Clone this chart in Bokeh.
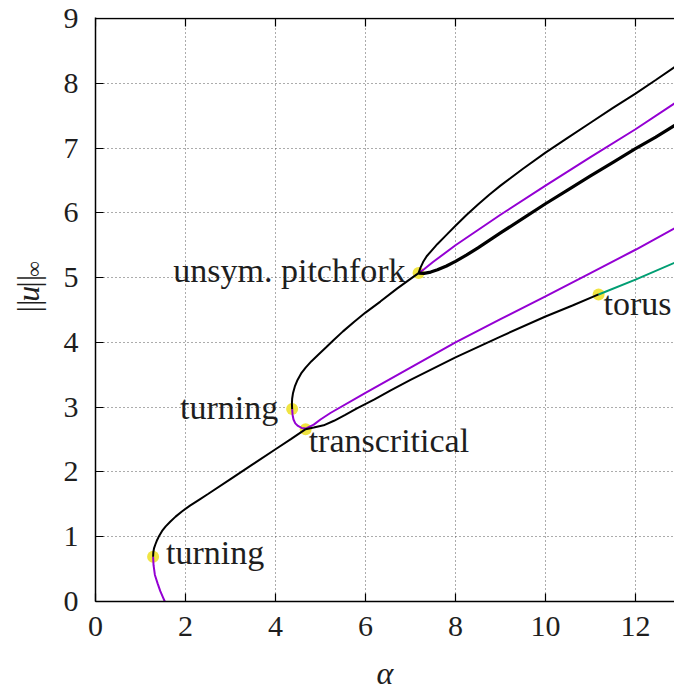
import math
from bokeh.plotting import figure
from bokeh.layouts import row
from bokeh.models import Label, FixedTicker, Range1d, Span
from bokeh.core.properties import value
from bokeh.embed import file_html
from bokeh.resources import INLINE

# ---------------- data ----------------
# lower purple branch below the first turning point
a_low = [1.54, 1.49, 1.44, 1.38, 1.32, 1.29, 1.28]
u_low = [0.00, 0.08, 0.16, 0.28, 0.41, 0.56, 0.69]

# main black branch: first turning point -> transcritical -> torus
a_main = [1.28, 1.285, 1.30, 1.33, 1.37, 1.42, 1.48, 1.56, 1.66, 1.78, 1.92, 2.10, 2.30,
          2.50, 3.00, 3.50, 4.00, 4.35, 4.67, 4.85, 5.07, 5.30, 5.55, 5.81, 6.20, 6.56,
          7.00, 8.00, 9.00, 10.00, 10.60, 11.18]
u_main = [0.69, 0.76, 0.82, 0.88, 0.95, 1.02, 1.09, 1.16, 1.23, 1.31, 1.39, 1.48, 1.57,
          1.66, 1.89, 2.12, 2.35, 2.51, 2.66, 2.685, 2.72, 2.79, 2.88, 2.98, 3.12, 3.26,
          3.42, 3.77, 4.09, 4.40, 4.57, 4.74]

# green continuation after the torus point
a_torus = [11.18, 12.00, 12.87]
u_torus = [4.74, 4.97, 5.23]

# purple branch: second turning point -> transcritical -> right edge
a_mid = [4.37, 4.38, 4.40, 4.44, 4.50, 4.58, 4.67, 4.85, 5.00, 5.22, 6.00, 7.00, 8.00,
         9.00, 10.00, 11.00, 12.00, 12.87]
u_mid = [2.97, 2.88, 2.81, 2.75, 2.71, 2.68, 2.67, 2.73, 2.81, 2.91, 3.22, 3.61, 4.00,
         4.36, 4.71, 5.07, 5.43, 5.76]

# black branch: second turning point -> pitchfork -> upper branch
a_up = [4.37, 4.365, 4.37, 4.39, 4.43, 4.49, 4.57, 4.67, 4.80, 4.95, 5.12, 5.30, 5.50,
        5.75, 6.00, 6.33, 6.70, 7.00, 7.18, 7.22, 7.28, 7.36, 7.46, 7.60, 7.80, 8.00,
        8.25, 8.50, 8.75, 9.00, 9.50, 10.00, 10.50, 11.00, 11.50, 12.00, 12.45, 12.87]
u_up = [2.97, 3.05, 3.13, 3.22, 3.32, 3.42, 3.52, 3.61, 3.71, 3.81, 3.92, 4.04, 4.17,
        4.32, 4.46, 4.63, 4.83, 4.98, 5.07, 5.15, 5.24, 5.33, 5.41, 5.52, 5.66, 5.80,
        5.97, 6.13, 6.28, 6.42, 6.68, 6.93, 7.16, 7.39, 7.62, 7.84, 8.05, 8.25]

# purple branch out of the pitchfork
a_pf = [7.18, 7.30, 7.50, 8.00, 9.00, 10.00, 11.00, 12.00, 12.87]
u_pf = [5.07, 5.13, 5.24, 5.50, 5.97, 6.42, 6.86, 7.29, 7.69]

# thick black (symmetric pair) branch out of the pitchfork
a_pf2 = [7.18, 7.30, 7.45, 7.60, 7.80, 8.00, 8.25, 8.50, 8.75, 9.00, 9.50, 10.00, 10.50,
         11.00, 11.50, 12.00, 12.45, 12.87]
u_pf2 = [5.07, 5.065, 5.085, 5.12, 5.18, 5.25, 5.35, 5.46, 5.575, 5.69, 5.915, 6.14,
         6.355, 6.57, 6.78, 6.99, 7.17, 7.35]

# bifurcation points and their labels
bif_names = ["turning", "turning", "transcritical", "unsym. pitchfork", "torus"]
bif_a = [1.28, 4.37, 4.67, 7.18, 11.18]
bif_u = [0.69, 2.97, 2.66, 5.07, 4.74]

x_ticks = [0, 2, 4, 6, 8, 10, 12]
y_ticks = [0, 1, 2, 3, 4, 5, 6, 7, 8, 9]
x_label = "α"
y_label_parts = ["||", "u", "||", "∞"]

# ---------------- styles ----------------
FONT = "Liberation Serif"
TXT = "#1e1e1e"
BLACK = "#000000"
PURPLE = "#9400d3"
GREEN = "#009e73"
YELLOW = "#f0e442"
PX_PER_U = 65.0

p = figure(width=614, height=693, x_range=Range1d(0, 12.867),
           y_range=Range1d(0, 9 + 1 / PX_PER_U),
           output_backend="svg", toolbar_location=None, title=None,
           min_border_left=35, min_border_right=0, min_border_top=17, min_border_bottom=90,
           x_axis_label=x_label)
p.outline_line_color = None
p.background_fill_color = "white"
p.border_fill_color = "white"

xt = FixedTicker(ticks=x_ticks)
yt = FixedTicker(ticks=y_ticks)

for ax, tk in ((p.xaxis[0], xt), (p.yaxis[0], yt)):
    ax.ticker = tk
    ax.major_tick_in = 8
    ax.major_tick_out = 0
    ax.minor_tick_line_color = None
    ax.axis_line_width = 1.5
    ax.major_tick_line_width = 1.2
    ax.major_label_text_font = FONT
    ax.major_label_text_font_size = "30px"
    ax.major_label_text_color = TXT

p.xaxis.major_label_standoff = 15
p.yaxis.major_label_standoff = 17
p.xaxis.axis_label_text_font = FONT
p.xaxis.axis_label_text_font_style = "italic"
p.xaxis.axis_label_text_font_size = "32px"
p.xaxis.axis_label_text_color = TXT
p.xaxis.axis_label_standoff = 16

for g, tk in ((p.xgrid[0], xt), (p.ygrid[0], yt)):
    g.ticker = tk
    g.grid_line_color = "#585858"
    g.grid_line_dash = "1 3"
    g.grid_line_width = 1

# top border with inward (mirrored) ticks
p.add_layout(Span(location=9, dimension="width", line_color=BLACK, line_width=1.5))
tick_len = 8 / PX_PER_U
p.segment(x0=x_ticks, y0=[9] * len(x_ticks), x1=x_ticks,
          y1=[9 - tick_len] * len(x_ticks), line_color=BLACK, line_width=1.2)

# markers below the curves
p.scatter(bif_a, bif_u, size=12, marker="circle", fill_color=YELLOW, line_color=None)

p.line(a_low, u_low, line_color=PURPLE, line_width=2)
p.line(a_mid, u_mid, line_color=PURPLE, line_width=2)
p.line(a_pf, u_pf, line_color=PURPLE, line_width=2)
p.line(a_torus, u_torus, line_color=GREEN, line_width=2)
p.line(a_main, u_main, line_color=BLACK, line_width=2)
p.line(a_up, u_up, line_color=BLACK, line_width=2)
p.line(a_pf2, u_pf2, line_color=BLACK, line_width=3.2)

# labels of the bifurcation points (pixel offsets from the point)
label_style = [("left", 13, 4), ("right", -14, 2), ("left", 3, -11),
               ("right", -13, 3), ("left", 5, -9)]
for name, a, u, (align, dx, dy) in zip(bif_names, bif_a, bif_u, label_style):
    p.add_layout(Label(x=a, y=u, text=name, x_offset=dx, y_offset=dy,
                       text_align=align, text_baseline="alphabetic",
                       text_font=FONT, text_font_size="34px", text_color=TXT))

# ---- narrow left panel holding the rotated y-axis label ||u||_inf ----
H = 693
ql = figure(width=60, height=H, x_range=Range1d(0, 60), y_range=Range1d(0, H),
            x_axis_type=None, y_axis_type=None, output_backend="svg",
            toolbar_location=None, title=None, min_border=0)
ql.outline_line_color = None
ql.grid.visible = False
ql.background_fill_color = "white"
ql.border_fill_color = "white"

piece_style = [("normal", 32, 12.8, 0), ("italic", 32, 16.5, 0),
               ("normal", 32, 13.0, 0), ("normal", 22, 16.0, 6)]
pos = H - 350
for txt, (style, size, w, shift) in zip(y_label_parts, piece_style):
    ql.text(x=[27 + shift], y=[pos], text=[txt], angle=math.pi / 2,
            text_align="left", text_baseline="alphabetic",
            text_font=value(FONT), text_font_style=style,
            text_font_size=f"{size}px", text_color=TXT)
    pos += w

layout = row(ql, p, spacing=0)
open("out.html", "w").write(file_html(layout, INLINE))
